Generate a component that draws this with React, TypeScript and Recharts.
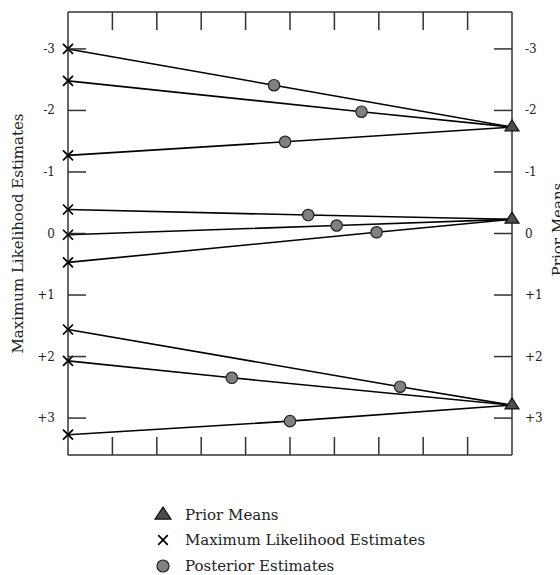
import React from 'react';
import { ComposedChart, Scatter, XAxis, YAxis, Legend } from 'recharts';

// Maximum likelihood estimates (left edge, x = 0)
const mlEstimates = [-3.0, -2.48, -1.27, -0.39, 0.02, 0.47, 1.56, 2.07, 3.27];
// Which prior mean each estimate shrinks toward
const priorIndex = [0, 0, 0, 1, 1, 1, 2, 2, 2];
// Prior means (right edge, x = 1)
const priorMeans = [-1.73, -0.23, 2.79];
// Relative position of each posterior estimate between the two ends
const posteriorWeights = [0.464, 0.661, 0.489, 0.541, 0.605, 0.695, 0.748, 0.369, 0.5];
const posteriorEstimates = [-2.41, -1.98, -1.49, -0.3, -0.13, -0.02, 2.49, 2.345, 3.05];

const yTicks = [-3, -2, -1, 0, 1, 2, 3];
const xTicks = [0.1, 0.2, 0.3, 0.4, 0.5, 0.6, 0.7, 0.8, 0.9];
const legendItems = ['Prior Means', 'Maximum Likelihood Estimates', 'Posterior Estimates'];

const FONT = '"DejaVu Serif", serif';
const FRAME = '#333';

const paths = mlEstimates.map((ml, i) => [
  { x: 0, y: ml },
  { x: posteriorWeights[i], y: posteriorEstimates[i] },
  { x: 1, y: priorMeans[priorIndex[i]] },
]);
const mlPoints = mlEstimates.map((v) => ({ x: 0, y: v }));
const posteriorPoints = posteriorEstimates.map((v, i) => ({ x: posteriorWeights[i], y: v }));
const priorPoints = priorMeans.map((v) => ({ x: 1, y: v }));

const fmt = (v: number) => (v > 0 ? `+${v}` : `${v}`);

const Triangle = ({ cx, cy, w = 14, h = 11 }: any) => (
  <polygon
    points={`${cx},${cy - h * 0.66} ${cx - w / 2},${cy + h * 0.34} ${cx + w / 2},${cy + h * 0.34}`}
    fill="#4d4d4d"
    stroke="#111"
    strokeWidth={1.2}
  />
);
const Cross = ({ cx, cy, s = 5 }: any) => (
  <g stroke="#000" strokeWidth={1.7}>
    <line x1={cx - s} y1={cy - s} x2={cx + s} y2={cy + s} />
    <line x1={cx - s} y1={cy + s} x2={cx + s} y2={cy - s} />
  </g>
);
const Dot = ({ cx, cy, r = 5.7 }: any) => (
  <circle cx={cx} cy={cy} r={r} fill="#808080" stroke="#222" strokeWidth={1.2} />
);

const LeftTick = ({ x, y, payload }: any) => (
  <g>
    <line x1={x} y1={y} x2={x + 18} y2={y} stroke={FRAME} strokeWidth={1.5} />
    <text x={x - 13} y={y} textAnchor="end" dominantBaseline="central" fontFamily={FONT} fontSize={12} fill="#222">
      {fmt(payload.value)}
    </text>
  </g>
);
const RightTick = ({ x, y, payload }: any) => (
  <g>
    <line x1={x - 18} y1={y} x2={x} y2={y} stroke={FRAME} strokeWidth={1.5} />
    <text x={x + 13} y={y} textAnchor="start" dominantBaseline="central" fontFamily={FONT} fontSize={12} fill="#222">
      {fmt(payload.value)}
    </text>
  </g>
);
const TopTick = ({ x, y }: any) => (
  <line x1={x} y1={y} x2={x} y2={y + 18} stroke={FRAME} strokeWidth={1.5} />
);
const BottomTick = ({ x, y }: any) => (
  <line x1={x} y1={y} x2={x} y2={y - 18} stroke={FRAME} strokeWidth={1.5} />
);

const LeftTitle = ({ viewBox }: any) => {
  const x = viewBox.x + 23;
  const y = viewBox.y + viewBox.height / 2;
  return (
    <text x={x} y={y} transform={`rotate(-90 ${x} ${y})`} textAnchor="middle" fontFamily={FONT} fontSize={15} fill="#222">
      Maximum Likelihood Estimates
    </text>
  );
};
const RightTitle = ({ viewBox }: any) => {
  const x = viewBox.x + 51;
  const y = viewBox.y + viewBox.height / 2 - 4;
  return (
    <text x={x} y={y} transform={`rotate(-90 ${x} ${y})`} textAnchor="middle" fontFamily={FONT} fontSize={15} fill="#222">
      Prior Means
    </text>
  );
};

const legendIcons = [
  <Triangle cx={13} cy={13} w={16} h={12} />,
  <Cross cx={13} cy={13} s={4.8} />,
  <Dot cx={13} cy={13} r={6} />,
];

const LegendContent = () => (
  <div style={{ fontFamily: FONT, fontSize: 15, color: '#222' }}>
    {legendItems.map((label, i) => (
      <div key={label} style={{ display: 'flex', alignItems: 'center', height: 25.5 }}>
        <svg width={26} height={26} style={{ marginRight: 9 }}>
          {legendIcons[i]}
        </svg>
        <span>{label}</span>
      </div>
    ))}
  </div>
);

const noShape = () => <g />;

export default function App() {
  return (
    <div style={{ position: 'absolute', left: 0, top: 0, width: 560, height: 575, overflow: 'hidden', background: '#fff' }}>
      <ComposedChart width={560} height={575} margin={{ top: 11, right: 0, bottom: 119, left: 0 }}>
        <XAxis
          xAxisId="bottom"
          type="number"
          dataKey="x"
          domain={[0, 1]}
          ticks={xTicks}
          height={1}
          tickSize={0}
          tickMargin={0}
          tickLine={false}
          tick={<BottomTick />}
          axisLine={{ stroke: FRAME, strokeWidth: 1.5 }}
        />
        <XAxis
          xAxisId="top"
          orientation="top"
          type="number"
          dataKey="x"
          domain={[0, 1]}
          ticks={xTicks}
          height={1}
          tickSize={0}
          tickMargin={0}
          tickLine={false}
          tick={<TopTick />}
          axisLine={{ stroke: FRAME, strokeWidth: 1.5 }}
        />
        <YAxis
          yAxisId="left"
          type="number"
          dataKey="y"
          domain={[-3.6, 3.6]}
          reversed
          ticks={yTicks}
          width={68}
          tickSize={0}
          tickMargin={0}
          tickLine={false}
          tick={<LeftTick />}
          axisLine={{ stroke: FRAME, strokeWidth: 1.5 }}
          label={<LeftTitle />}
        />
        <YAxis
          yAxisId="right"
          orientation="right"
          type="number"
          dataKey="y"
          domain={[-3.6, 3.6]}
          reversed
          ticks={yTicks}
          width={48}
          tickSize={0}
          tickMargin={0}
          tickLine={false}
          tick={<RightTick />}
          axisLine={{ stroke: FRAME, strokeWidth: 1.5 }}
          label={<RightTitle />}
        />
        {paths.map((pts, i) => (
          <Scatter
            key={`path-${i}`}
            xAxisId="bottom"
            yAxisId="left"
            data={pts}
            line={{ stroke: '#000', strokeWidth: 1.6 }}
            lineType="joint"
            shape={noShape}
            legendType="none"
            isAnimationActive={false}
          />
        ))}
        <Scatter name="Posterior Estimates" xAxisId="bottom" yAxisId="left" data={posteriorPoints} shape={<Dot />} isAnimationActive={false} />
        <Scatter name="Maximum Likelihood Estimates" xAxisId="bottom" yAxisId="left" data={mlPoints} shape={<Cross />} isAnimationActive={false} />
        <Scatter name="Prior Means" xAxisId="top" yAxisId="right" data={priorPoints} shape={<Triangle />} isAnimationActive={false} />
        <Legend
          layout="vertical"
          align="center"
          verticalAlign="middle"
          content={<LegendContent />}
          wrapperStyle={{ top: 502, left: 150, width: 320, height: 80 }}
        />
      </ComposedChart>
    </div>
  );
}
